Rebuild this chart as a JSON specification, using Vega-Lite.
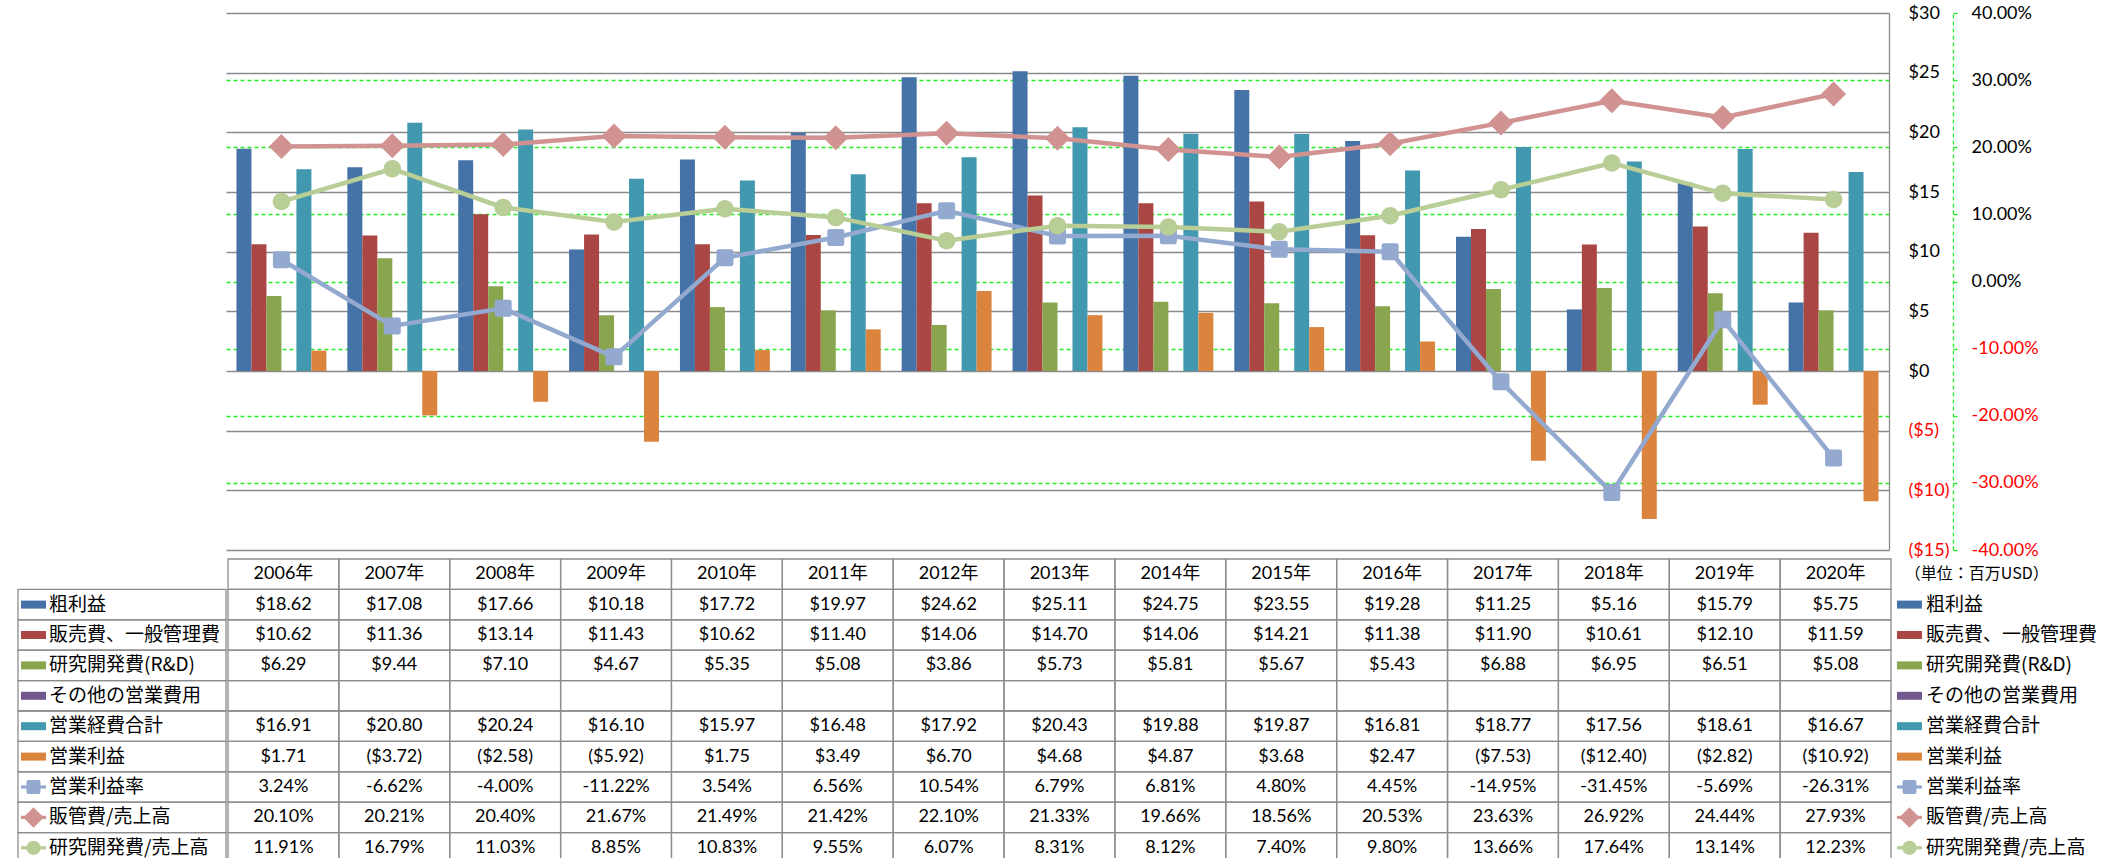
{
  "$schema": "https://vega.github.io/schema/vega-lite/v6.json",
  "background": "white",
  "padding": {"left": 17, "top": 4, "right": 0, "bottom": 0},
  "spacing": -8,
  "datasets": {
    "d": [
      {"t":"2006年","s":"粗利益","v":18.62},{"t":"2007年","s":"粗利益","v":17.08},{"t":"2008年","s":"粗利益","v":17.66},{"t":"2009年","s":"粗利益","v":10.18},{"t":"2010年","s":"粗利益","v":17.72},{"t":"2011年","s":"粗利益","v":19.97},{"t":"2012年","s":"粗利益","v":24.62},{"t":"2013年","s":"粗利益","v":25.11},{"t":"2014年","s":"粗利益","v":24.75},{"t":"2015年","s":"粗利益","v":23.55},{"t":"2016年","s":"粗利益","v":19.28},{"t":"2017年","s":"粗利益","v":11.25},{"t":"2018年","s":"粗利益","v":5.16},{"t":"2019年","s":"粗利益","v":15.79},{"t":"2020年","s":"粗利益","v":5.75},
      {"t":"2006年","s":"販売費、一般管理費","v":10.62},{"t":"2007年","s":"販売費、一般管理費","v":11.36},{"t":"2008年","s":"販売費、一般管理費","v":13.14},{"t":"2009年","s":"販売費、一般管理費","v":11.43},{"t":"2010年","s":"販売費、一般管理費","v":10.62},{"t":"2011年","s":"販売費、一般管理費","v":11.40},{"t":"2012年","s":"販売費、一般管理費","v":14.06},{"t":"2013年","s":"販売費、一般管理費","v":14.70},{"t":"2014年","s":"販売費、一般管理費","v":14.06},{"t":"2015年","s":"販売費、一般管理費","v":14.21},{"t":"2016年","s":"販売費、一般管理費","v":11.38},{"t":"2017年","s":"販売費、一般管理費","v":11.90},{"t":"2018年","s":"販売費、一般管理費","v":10.61},{"t":"2019年","s":"販売費、一般管理費","v":12.10},{"t":"2020年","s":"販売費、一般管理費","v":11.59},
      {"t":"2006年","s":"研究開発費(R&D)","v":6.29},{"t":"2007年","s":"研究開発費(R&D)","v":9.44},{"t":"2008年","s":"研究開発費(R&D)","v":7.10},{"t":"2009年","s":"研究開発費(R&D)","v":4.67},{"t":"2010年","s":"研究開発費(R&D)","v":5.35},{"t":"2011年","s":"研究開発費(R&D)","v":5.08},{"t":"2012年","s":"研究開発費(R&D)","v":3.86},{"t":"2013年","s":"研究開発費(R&D)","v":5.73},{"t":"2014年","s":"研究開発費(R&D)","v":5.81},{"t":"2015年","s":"研究開発費(R&D)","v":5.67},{"t":"2016年","s":"研究開発費(R&D)","v":5.43},{"t":"2017年","s":"研究開発費(R&D)","v":6.88},{"t":"2018年","s":"研究開発費(R&D)","v":6.95},{"t":"2019年","s":"研究開発費(R&D)","v":6.51},{"t":"2020年","s":"研究開発費(R&D)","v":5.08},
      {"t":"2006年","s":"その他の営業費用","v":null},{"t":"2007年","s":"その他の営業費用","v":null},{"t":"2008年","s":"その他の営業費用","v":null},{"t":"2009年","s":"その他の営業費用","v":null},{"t":"2010年","s":"その他の営業費用","v":null},{"t":"2011年","s":"その他の営業費用","v":null},{"t":"2012年","s":"その他の営業費用","v":null},{"t":"2013年","s":"その他の営業費用","v":null},{"t":"2014年","s":"その他の営業費用","v":null},{"t":"2015年","s":"その他の営業費用","v":null},{"t":"2016年","s":"その他の営業費用","v":null},{"t":"2017年","s":"その他の営業費用","v":null},{"t":"2018年","s":"その他の営業費用","v":null},{"t":"2019年","s":"その他の営業費用","v":null},{"t":"2020年","s":"その他の営業費用","v":null},
      {"t":"2006年","s":"営業経費合計","v":16.91},{"t":"2007年","s":"営業経費合計","v":20.80},{"t":"2008年","s":"営業経費合計","v":20.24},{"t":"2009年","s":"営業経費合計","v":16.10},{"t":"2010年","s":"営業経費合計","v":15.97},{"t":"2011年","s":"営業経費合計","v":16.48},{"t":"2012年","s":"営業経費合計","v":17.92},{"t":"2013年","s":"営業経費合計","v":20.43},{"t":"2014年","s":"営業経費合計","v":19.88},{"t":"2015年","s":"営業経費合計","v":19.87},{"t":"2016年","s":"営業経費合計","v":16.81},{"t":"2017年","s":"営業経費合計","v":18.77},{"t":"2018年","s":"営業経費合計","v":17.56},{"t":"2019年","s":"営業経費合計","v":18.61},{"t":"2020年","s":"営業経費合計","v":16.67},
      {"t":"2006年","s":"営業利益","v":1.71},{"t":"2007年","s":"営業利益","v":-3.72},{"t":"2008年","s":"営業利益","v":-2.58},{"t":"2009年","s":"営業利益","v":-5.92},{"t":"2010年","s":"営業利益","v":1.75},{"t":"2011年","s":"営業利益","v":3.49},{"t":"2012年","s":"営業利益","v":6.70},{"t":"2013年","s":"営業利益","v":4.68},{"t":"2014年","s":"営業利益","v":4.87},{"t":"2015年","s":"営業利益","v":3.68},{"t":"2016年","s":"営業利益","v":2.47},{"t":"2017年","s":"営業利益","v":-7.53},{"t":"2018年","s":"営業利益","v":-12.40},{"t":"2019年","s":"営業利益","v":-2.82},{"t":"2020年","s":"営業利益","v":-10.92},
      {"t":"2006年","s":"営業利益率","v":3.24},{"t":"2007年","s":"営業利益率","v":-6.62},{"t":"2008年","s":"営業利益率","v":-4.00},{"t":"2009年","s":"営業利益率","v":-11.22},{"t":"2010年","s":"営業利益率","v":3.54},{"t":"2011年","s":"営業利益率","v":6.56},{"t":"2012年","s":"営業利益率","v":10.54},{"t":"2013年","s":"営業利益率","v":6.79},{"t":"2014年","s":"営業利益率","v":6.81},{"t":"2015年","s":"営業利益率","v":4.80},{"t":"2016年","s":"営業利益率","v":4.45},{"t":"2017年","s":"営業利益率","v":-14.95},{"t":"2018年","s":"営業利益率","v":-31.45},{"t":"2019年","s":"営業利益率","v":-5.69},{"t":"2020年","s":"営業利益率","v":-26.31},
      {"t":"2006年","s":"販管費/売上高","v":20.10},{"t":"2007年","s":"販管費/売上高","v":20.21},{"t":"2008年","s":"販管費/売上高","v":20.40},{"t":"2009年","s":"販管費/売上高","v":21.67},{"t":"2010年","s":"販管費/売上高","v":21.49},{"t":"2011年","s":"販管費/売上高","v":21.42},{"t":"2012年","s":"販管費/売上高","v":22.10},{"t":"2013年","s":"販管費/売上高","v":21.33},{"t":"2014年","s":"販管費/売上高","v":19.66},{"t":"2015年","s":"販管費/売上高","v":18.56},{"t":"2016年","s":"販管費/売上高","v":20.53},{"t":"2017年","s":"販管費/売上高","v":23.63},{"t":"2018年","s":"販管費/売上高","v":26.92},{"t":"2019年","s":"販管費/売上高","v":24.44},{"t":"2020年","s":"販管費/売上高","v":27.93},
      {"t":"2006年","s":"研究開発費/売上高","v":11.91},{"t":"2007年","s":"研究開発費/売上高","v":16.79},{"t":"2008年","s":"研究開発費/売上高","v":11.03},{"t":"2009年","s":"研究開発費/売上高","v":8.85},{"t":"2010年","s":"研究開発費/売上高","v":10.83},{"t":"2011年","s":"研究開発費/売上高","v":9.55},{"t":"2012年","s":"研究開発費/売上高","v":6.07},{"t":"2013年","s":"研究開発費/売上高","v":8.31},{"t":"2014年","s":"研究開発費/売上高","v":8.12},{"t":"2015年","s":"研究開発費/売上高","v":7.40},{"t":"2016年","s":"研究開発費/売上高","v":9.80},{"t":"2017年","s":"研究開発費/売上高","v":13.66},{"t":"2018年","s":"研究開発費/売上高","v":17.64},{"t":"2019年","s":"研究開発費/売上高","v":13.14},{"t":"2020年","s":"研究開発費/売上高","v":12.23}
    ]
  },
  "vconcat": [
    {
      "spacing": 0,
      "hconcat": [
        {"width": 208, "height": 537, "data": {"values": [{}]}, "mark": {"type": "point", "opacity": 0}},
        {
          "width": 1663,
          "height": 537,
          "data": {"name": "d"},
          "encoding": {
            "x": {"field": "t", "type": "nominal", "axis": null, "scale": {"domain": ["2006年","2007年","2008年","2009年","2010年","2011年","2012年","2013年","2014年","2015年","2016年","2017年","2018年","2019年","2020年"], "paddingInner": 0, "paddingOuter": 0}}
          },
          "layer": [
            {
              "transform": [{"filter": {"field": "s", "oneOf": ["粗利益","販売費、一般管理費","研究開発費(R&D)","その他の営業費用","営業経費合計","営業利益"]}}],
              "mark": {"type": "bar"},
              "encoding": {
                "xOffset": {"field": "s", "type": "nominal", "scale": {"domain": ["粗利益","販売費、一般管理費","研究開発費(R&D)","その他の営業費用","営業経費合計","営業利益"], "paddingInner": 0, "paddingOuter": 0.7}},
                "y": {"field": "v", "type": "quantitative", "scale": {"domain": [-15, 30], "nice": false},
                  "axis": {"orient": "right", "title": null, "values": [-15,-10,-5,0,5,10,15,20,25,30], "grid": true, "gridColor": "#8a8a8a", "gridWidth": 1.3, "domain": true, "domainColor": "#8a8a8a", "domainWidth": 1.3, "ticks": false, "tickSize": 0, "labelPadding": 19, "labelFont": "Lato", "labelFontSize": 18, "labelAlign": "left", "labelOverlap": false, "labelFlush": false, "labelExpr": "datum.value < 0 ? '($' + abs(datum.value) + ')' : '$' + datum.value", "labelColor": {"condition": {"test": "datum.value < 0", "value": "#ff0000"}, "value": "#000000"}}},
                "color": {"field": "s", "type": "nominal", "legend": null, "scale": {"domain": ["粗利益","販売費、一般管理費","研究開発費(R&D)","その他の営業費用","営業経費合計","営業利益","営業利益率","販管費/売上高","研究開発費/売上高"], "range": ["#4572A7","#AA4643","#89A54E","#71588F","#4198AF","#DB843D","#93A9CF","#D19392","#B9CD96"]}}
              }
            },
            {
              "transform": [{"filter": {"field": "s", "oneOf": ["営業利益率","販管費/売上高","研究開発費/売上高"]}}],
              "encoding": {
                "y": {"field": "v", "type": "quantitative", "scale": {"domain": [-40, 40], "nice": false},
                  "axis": {"orient": "right", "offset": 64, "title": null, "values": [-40,-30,-20,-10,0,10,20,30,40], "grid": true, "gridColor": "#22ee22", "gridDash": [4,3], "gridWidth": 1.3, "gridOpacity": {"condition": {"test": "abs(datum.value) == 40", "value": 0}, "value": 1}, "domain": true, "domainColor": "#22ee22", "domainDash": [4,3], "domainWidth": 1.3, "ticks": true, "tickColor": "#22ee22", "tickSize": 4, "tickWidth": 1.3, "labelPadding": 14, "labelFont": "Lato", "labelFontSize": 18, "labelAlign": "left", "labelOverlap": false, "labelFlush": false, "labelExpr": "(datum.value < 0 ? '-' : '') + format(abs(datum.value), '.2f') + '%'", "labelColor": {"condition": {"test": "datum.value < 0", "value": "#ff0000"}, "value": "#000000"}}},
                "color": {"field": "s", "type": "nominal", "legend": null, "scale": {"domain": ["粗利益","販売費、一般管理費","研究開発費(R&D)","その他の営業費用","営業経費合計","営業利益","営業利益率","販管費/売上高","研究開発費/売上高"], "range": ["#4572A7","#AA4643","#89A54E","#71588F","#4198AF","#DB843D","#93A9CF","#D19392","#B9CD96"]}}
              },
              "layer": [
                {"mark": {"type": "line", "strokeWidth": 4.5}},
                {"mark": {"type": "point", "filled": true, "opacity": 1, "size": 625, "strokeWidth": 0},
                  "encoding": {"shape": {"field": "s", "type": "nominal", "legend": null, "scale": {"domain": ["営業利益率","販管費/売上高","研究開発費/売上高"], "range": ["M-0.68,-0.5Q-0.68,-0.68,-0.5,-0.68H0.5Q0.68,-0.68,0.68,-0.5V0.5Q0.68,0.68,0.5,0.68H-0.5Q-0.68,0.68,-0.68,0.5Z", "M-1,0L0,-1L1,0L0,1Z", "M-0.7,0A0.7,0.7,0,1,1,0.7,0A0.7,0.7,0,1,1,-0.7,0Z"]}}}}
              ]
            }
          ],
          "resolve": {"scale": {"y": "independent"}}
        }
      ]
    },
    {
      "spacing": 0,
      "hconcat": [
        {
          "width": 208,
          "height": 304,
          "data": {"name": "d"},
          "transform": [{"aggregate": [{"op": "count", "as": "n"}], "groupby": ["s"]}],
          "encoding": {
            "y": {"field": "s", "type": "nominal", "axis": null, "scale": {"domain": ["hdr","粗利益","販売費、一般管理費","研究開発費(R&D)","その他の営業費用","営業経費合計","営業利益","営業利益率","販管費/売上高","研究開発費/売上高"], "paddingInner": 0, "paddingOuter": 0}}
          },
          "layer": [
            {"mark": {"type": "rect", "fillOpacity": 0, "stroke": "#8c8c8c", "strokeWidth": 1.3},
              "encoding": {"x": {"datum": 0, "type": "quantitative", "axis": null, "scale": {"domain": [0, 1]}}, "x2": {"datum": 1}}},
            {"transform": [{"filter": {"field": "s", "oneOf": ["粗利益","販売費、一般管理費","研究開発費(R&D)","その他の営業費用","営業経費合計","営業利益"]}}],
              "mark": {"type": "point", "shape": "M-1,-0.32H1V0.32H-1Z", "filled": true, "opacity": 1, "size": 625, "strokeWidth": 0},
              "encoding": {"x": {"datum": 0.0745, "type": "quantitative", "axis": null, "scale": {"domain": [0, 1]}},
                "color": {"field": "s", "type": "nominal", "legend": null, "scale": {"domain": ["粗利益","販売費、一般管理費","研究開発費(R&D)","その他の営業費用","営業経費合計","営業利益","営業利益率","販管費/売上高","研究開発費/売上高"], "range": ["#4572A7","#AA4643","#89A54E","#71588F","#4198AF","#DB843D","#93A9CF","#D19392","#B9CD96"]}}}},
            {"transform": [{"filter": {"field": "s", "oneOf": ["営業利益率","販管費/売上高","研究開発費/売上高"]}}],
              "mark": {"type": "point", "shape": "M-1,-0.13H1V0.13H-1Z", "filled": true, "opacity": 1, "size": 625, "strokeWidth": 0},
              "encoding": {"x": {"datum": 0.0745, "type": "quantitative", "axis": null, "scale": {"domain": [0, 1]}},
                "color": {"field": "s", "type": "nominal", "legend": null, "scale": {"domain": ["粗利益","販売費、一般管理費","研究開発費(R&D)","その他の営業費用","営業経費合計","営業利益","営業利益率","販管費/売上高","研究開発費/売上高"], "range": ["#4572A7","#AA4643","#89A54E","#71588F","#4198AF","#DB843D","#93A9CF","#D19392","#B9CD96"]}}}},
            {"transform": [{"filter": {"field": "s", "oneOf": ["営業利益率","販管費/売上高","研究開発費/売上高"]}}],
              "mark": {"type": "point", "filled": true, "opacity": 1, "size": 420, "strokeWidth": 0},
              "encoding": {"x": {"datum": 0.0745, "type": "quantitative", "axis": null, "scale": {"domain": [0, 1]}},
                "shape": {"field": "s", "type": "nominal", "legend": null, "scale": {"domain": ["営業利益率","販管費/売上高","研究開発費/売上高"], "range": ["M-0.68,-0.5Q-0.68,-0.68,-0.5,-0.68H0.5Q0.68,-0.68,0.68,-0.5V0.5Q0.68,0.68,0.5,0.68H-0.5Q-0.68,0.68,-0.68,0.5Z", "M-1,0L0,-1L1,0L0,1Z", "M-0.7,0A0.7,0.7,0,1,1,0.7,0A0.7,0.7,0,1,1,-0.7,0Z"]}},
                "color": {"field": "s", "type": "nominal", "legend": null, "scale": {"domain": ["粗利益","販売費、一般管理費","研究開発費(R&D)","その他の営業費用","営業経費合計","営業利益","営業利益率","販管費/売上高","研究開発費/売上高"], "range": ["#4572A7","#AA4643","#89A54E","#71588F","#4198AF","#DB843D","#93A9CF","#D19392","#B9CD96"]}}}},
            {"mark": {"type": "text", "align": "left", "baseline": "middle", "fontSize": 19, "font": "Noto Sans CJK JP", "color": "#000000"},
              "encoding": {"x": {"datum": 0.149, "type": "quantitative", "axis": null, "scale": {"domain": [0, 1]}}, "text": {"field": "s"}}}
          ]
        },
        {
          "width": 1663,
          "height": 304,
          "data": {"name": "d"},
          "encoding": {
            "x": {"field": "t", "type": "nominal", "axis": null, "scale": {"domain": ["2006年","2007年","2008年","2009年","2010年","2011年","2012年","2013年","2014年","2015年","2016年","2017年","2018年","2019年","2020年"], "paddingInner": 0, "paddingOuter": 0}},
            "y": {"field": "s", "type": "nominal", "axis": null, "scale": {"domain": ["hdr","粗利益","販売費、一般管理費","研究開発費(R&D)","その他の営業費用","営業経費合計","営業利益","営業利益率","販管費/売上高","研究開発費/売上高"], "paddingInner": 0, "paddingOuter": 0}}
          },
          "layer": [
            {"mark": {"type": "rect", "fillOpacity": 0, "stroke": "#8c8c8c", "strokeWidth": 1.3}},
            {"transform": [{"filter": "datum.s === '粗利益'"}],
              "mark": {"type": "rect", "fillOpacity": 0, "stroke": "#8c8c8c", "strokeWidth": 1.3},
              "encoding": {"y": {"datum": "hdr", "type": "nominal"}}},
            {"transform": [{"filter": "datum.s === '粗利益'"}],
              "mark": {"type": "text", "baseline": "middle", "fontSize": 18, "color": "#000000"},
              "encoding": {"y": {"datum": "hdr", "type": "nominal"}, "text": {"field": "t"}}},
            {"transform": [{"filter": "datum.v != null"},
                {"calculate": "indexof(['営業利益率','販管費/売上高','研究開発費/売上高'], datum.s) >= 0 ? (datum.v < 0 ? '-' : '') + format(abs(datum.v), '.2f') + '%' : (datum.v < 0 ? '($' + format(-datum.v, '.2f') + ')' : '$' + format(datum.v, '.2f'))", "as": "lab"}],
              "mark": {"type": "text", "baseline": "middle", "fontSize": 18, "color": "#000000"},
              "encoding": {"text": {"field": "lab"}}}
          ]
        },
        {
          "width": 213,
          "height": 304,
          "data": {"name": "d"},
          "transform": [{"aggregate": [{"op": "count", "as": "n"}], "groupby": ["s"]}],
          "encoding": {
            "y": {"field": "s", "type": "nominal", "axis": null, "scale": {"domain": ["hdr","粗利益","販売費、一般管理費","研究開発費(R&D)","その他の営業費用","営業経費合計","営業利益","営業利益率","販管費/売上高","研究開発費/売上高"], "paddingInner": 0, "paddingOuter": 0}}
          },
          "layer": [
            {"transform": [{"filter": "datum.s === '粗利益'"}],
              "mark": {"type": "text", "align": "left", "baseline": "middle", "fontSize": 16, "font": "Noto Sans CJK JP", "color": "#000000", "text": "（単位：百万USD）"},
              "encoding": {"x": {"datum": 0.06, "type": "quantitative", "axis": null, "scale": {"domain": [0, 1]}}, "y": {"datum": "hdr", "type": "nominal"}}},
            {"transform": [{"filter": {"field": "s", "oneOf": ["粗利益","販売費、一般管理費","研究開発費(R&D)","その他の営業費用","営業経費合計","営業利益"]}}],
              "mark": {"type": "point", "shape": "M-1,-0.32H1V0.32H-1Z", "filled": true, "opacity": 1, "size": 625, "strokeWidth": 0},
              "encoding": {"x": {"datum": 0.082, "type": "quantitative", "axis": null, "scale": {"domain": [0, 1]}},
                "color": {"field": "s", "type": "nominal", "legend": null, "scale": {"domain": ["粗利益","販売費、一般管理費","研究開発費(R&D)","その他の営業費用","営業経費合計","営業利益","営業利益率","販管費/売上高","研究開発費/売上高"], "range": ["#4572A7","#AA4643","#89A54E","#71588F","#4198AF","#DB843D","#93A9CF","#D19392","#B9CD96"]}}}},
            {"transform": [{"filter": {"field": "s", "oneOf": ["営業利益率","販管費/売上高","研究開発費/売上高"]}}],
              "mark": {"type": "point", "shape": "M-1,-0.13H1V0.13H-1Z", "filled": true, "opacity": 1, "size": 625, "strokeWidth": 0},
              "encoding": {"x": {"datum": 0.082, "type": "quantitative", "axis": null, "scale": {"domain": [0, 1]}},
                "color": {"field": "s", "type": "nominal", "legend": null, "scale": {"domain": ["粗利益","販売費、一般管理費","研究開発費(R&D)","その他の営業費用","営業経費合計","営業利益","営業利益率","販管費/売上高","研究開発費/売上高"], "range": ["#4572A7","#AA4643","#89A54E","#71588F","#4198AF","#DB843D","#93A9CF","#D19392","#B9CD96"]}}}},
            {"transform": [{"filter": {"field": "s", "oneOf": ["営業利益率","販管費/売上高","研究開発費/売上高"]}}],
              "mark": {"type": "point", "filled": true, "opacity": 1, "size": 420, "strokeWidth": 0},
              "encoding": {"x": {"datum": 0.082, "type": "quantitative", "axis": null, "scale": {"domain": [0, 1]}},
                "shape": {"field": "s", "type": "nominal", "legend": null, "scale": {"domain": ["営業利益率","販管費/売上高","研究開発費/売上高"], "range": ["M-0.68,-0.5Q-0.68,-0.68,-0.5,-0.68H0.5Q0.68,-0.68,0.68,-0.5V0.5Q0.68,0.68,0.5,0.68H-0.5Q-0.68,0.68,-0.68,0.5Z", "M-1,0L0,-1L1,0L0,1Z", "M-0.7,0A0.7,0.7,0,1,1,0.7,0A0.7,0.7,0,1,1,-0.7,0Z"]}},
                "color": {"field": "s", "type": "nominal", "legend": null, "scale": {"domain": ["粗利益","販売費、一般管理費","研究開発費(R&D)","その他の営業費用","営業経費合計","営業利益","営業利益率","販管費/売上高","研究開発費/売上高"], "range": ["#4572A7","#AA4643","#89A54E","#71588F","#4198AF","#DB843D","#93A9CF","#D19392","#B9CD96"]}}}},
            {"mark": {"type": "text", "align": "left", "baseline": "middle", "fontSize": 19, "font": "Noto Sans CJK JP", "color": "#000000"},
              "encoding": {"x": {"datum": 0.16, "type": "quantitative", "axis": null, "scale": {"domain": [0, 1]}}, "text": {"field": "s"}}}
          ]
        }
      ]
    }
  ],
  "config": {
    "view": {"stroke": null},
    "concat": {"spacing": 0},
    "text": {"font": "Lato, 'Noto Sans CJK JP', sans-serif"},
    "axis": {"labelFont": "Lato"}
  }
}
